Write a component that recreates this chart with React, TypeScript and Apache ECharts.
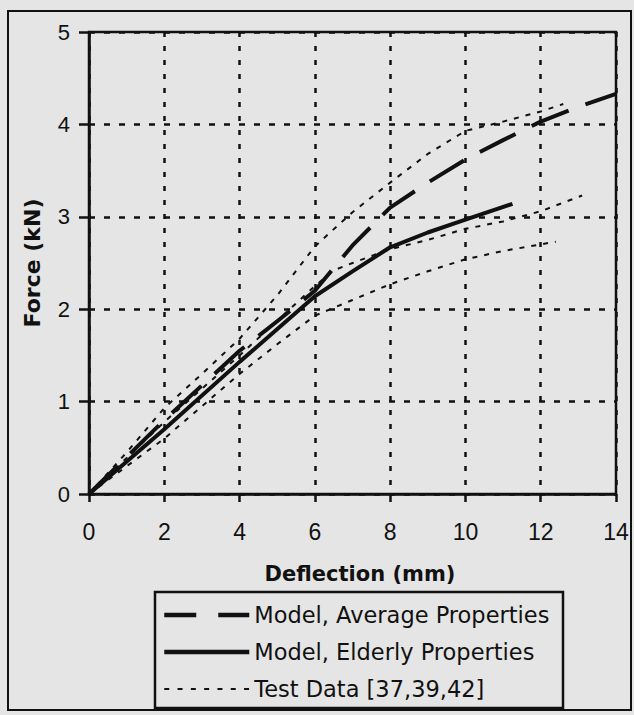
import React, { useEffect, useRef } from "react";
import * as echarts from "echarts";

const xTicks = [0, 2, 4, 6, 8, 10, 12, 14];
const yTicks = [0, 1, 2, 3, 4, 5];

const avgX = [0, 2, 4, 5, 6, 7, 8, 9, 10, 11, 12, 13, 14];
const avgY = [0, 0.8, 1.55, 1.87, 2.2, 2.69, 3.1, 3.37, 3.62, 3.83, 4.03, 4.19, 4.33];

const eldX = [0, 2, 4, 6, 7, 8, 9, 10, 11.25];
const eldY = [0, 0.7, 1.43, 2.14, 2.41, 2.67, 2.83, 2.97, 3.14];

const t1X = [0, 1, 2, 3, 4, 5, 6, 7, 8, 9, 10, 11, 12, 12.6];
const t1Y = [0, 0.45, 0.93, 1.3, 1.68, 2.15, 2.68, 3.05, 3.37, 3.68, 3.93, 4.03, 4.14, 4.22];

const t2X = [0, 2, 4, 6, 6.5, 7, 8, 9, 10, 11, 12, 13.1];
const t2Y = [0, 0.78, 1.5, 2.25, 2.42, 2.5, 2.65, 2.75, 2.87, 2.95, 3.06, 3.23];

const t3X = [0, 2, 3, 4, 5, 6, 7, 8, 9, 10, 11, 12.4];
const t3Y = [0, 0.6, 0.95, 1.3, 1.62, 1.93, 2.1, 2.27, 2.41, 2.54, 2.63, 2.73];

const NAME_AVG = "Model, Average Properties";
const NAME_ELD = "Model, Elderly Properties";
const NAME_TEST = "Test Data [37,39,42]";

const NUM_FONT = "'Liberation Sans', Arial, Helvetica, sans-serif";
const TXT_FONT = "'DejaVu Sans', 'Liberation Sans', sans-serif";
const INK = "#111";

const pairs = (xs: number[], ys: number[]) => xs.map((x, i) => [x, ys[i]]);

export default function App() {
  const ref = useRef<HTMLDivElement>(null);
  useEffect(() => {
    if (!ref.current) return;
    const chart = echarts.init(ref.current, undefined, { renderer: "svg" });
    const testLine = { color: INK, width: 2, type: [5, 7] as number[] };
    const hiddenDot = { opacity: 0, color: "rgba(0,0,0,0)", borderWidth: 0 };
    chart.setOption({
      animation: false,
      backgroundColor: "#e5e5e5",
      textStyle: { fontFamily: NUM_FONT },
      grid: {
        left: 89,
        right: 18,
        top: 32,
        bottom: 221,
        show: true,
        borderColor: INK,
        borderWidth: 2.5,
        backgroundColor: "transparent",
      },
      xAxis: {
        type: "value",
        min: xTicks[0],
        max: xTicks[xTicks.length - 1],
        interval: 2,
        name: "Deflection (mm)",
        nameLocation: "middle",
        nameGap: 69,
        nameTextStyle: { fontSize: 21, fontWeight: "bold", color: INK, fontFamily: TXT_FONT, padding: [0, 0, 0, 15] },
        axisLine: { show: true, lineStyle: { color: INK, width: 2.5 } },
        axisTick: { show: true, inside: false, length: 8, lineStyle: { color: INK, width: 2.5 } },
        axisLabel: { fontSize: 23, color: INK, margin: 26, fontFamily: NUM_FONT },
        splitLine: { show: true, lineStyle: { color: INK, width: 2.5, type: [5, 9] } },
      },
      yAxis: {
        type: "value",
        min: yTicks[0],
        max: yTicks[yTicks.length - 1],
        interval: 1,
        name: "Force (kN)",
        nameLocation: "middle",
        nameRotate: 90,
        nameGap: 46,
        nameTextStyle: { fontSize: 22, fontWeight: "bold", color: INK, fontFamily: TXT_FONT },
        axisLine: { show: true, lineStyle: { color: INK, width: 2.5 } },
        axisTick: { show: true, inside: false, length: 10, lineStyle: { color: INK, width: 2.5 } },
        axisLabel: { fontSize: 22, color: INK, margin: 19, fontFamily: NUM_FONT },
        splitLine: { show: true, lineStyle: { color: INK, width: 2.5, type: [6, 9] } },
      },
      legend: {
        orient: "vertical",
        left: 162,
        top: 603,
        padding: 0,
        itemWidth: 85,
        itemHeight: 14,
        itemGap: 13,
        textStyle: { fontSize: 22.5, lineHeight: 24, color: INK, fontFamily: TXT_FONT },
        data: [
          { name: NAME_AVG, itemStyle: hiddenDot, lineStyle: { type: [32, 22], width: 4.5, color: INK } },
          { name: NAME_ELD, itemStyle: hiddenDot, lineStyle: { type: "solid", width: 4.5, color: INK } },
          { name: NAME_TEST, itemStyle: hiddenDot, lineStyle: { type: [5, 8.3], width: 2, color: INK } },
        ],
      },
      graphic: [
        {
          type: "rect",
          shape: { x: 8, y: 11, width: 623, height: 699 },
          style: { fill: "none", stroke: INK, lineWidth: 2 },
          silent: true,
        },
        {
          type: "rect",
          shape: { x: 155, y: 592, width: 408, height: 116 },
          style: { fill: "none", stroke: INK, lineWidth: 2.5 },
          silent: true,
        },
      ],
      series: [
        {
          name: NAME_TEST,
          type: "line",
          symbol: "none",
          data: pairs(t1X, t1Y),
          lineStyle: testLine,
          itemStyle: { color: INK },
          z: 2,
        },
        {
          name: NAME_TEST,
          type: "line",
          symbol: "none",
          data: pairs(t2X, t2Y),
          lineStyle: testLine,
          itemStyle: { color: INK },
          z: 2,
        },
        {
          name: NAME_TEST,
          type: "line",
          symbol: "none",
          data: pairs(t3X, t3Y),
          lineStyle: testLine,
          itemStyle: { color: INK },
          z: 2,
        },
        {
          name: NAME_AVG,
          type: "line",
          symbol: "none",
          data: pairs(avgX, avgY),
          lineStyle: { color: INK, width: 4, type: [40, 18] },
          itemStyle: { color: INK },
          z: 3,
        },
        {
          name: NAME_ELD,
          type: "line",
          symbol: "none",
          data: pairs(eldX, eldY),
          lineStyle: { color: INK, width: 4, type: "solid" },
          itemStyle: { color: INK },
          z: 3,
        },
      ],
    });
    return () => chart.dispose();
  }, []);
  return (
    <div
      ref={ref}
      style={{ position: "absolute", left: 0, top: 0, width: 634, height: 715 }}
    />
  );
}
